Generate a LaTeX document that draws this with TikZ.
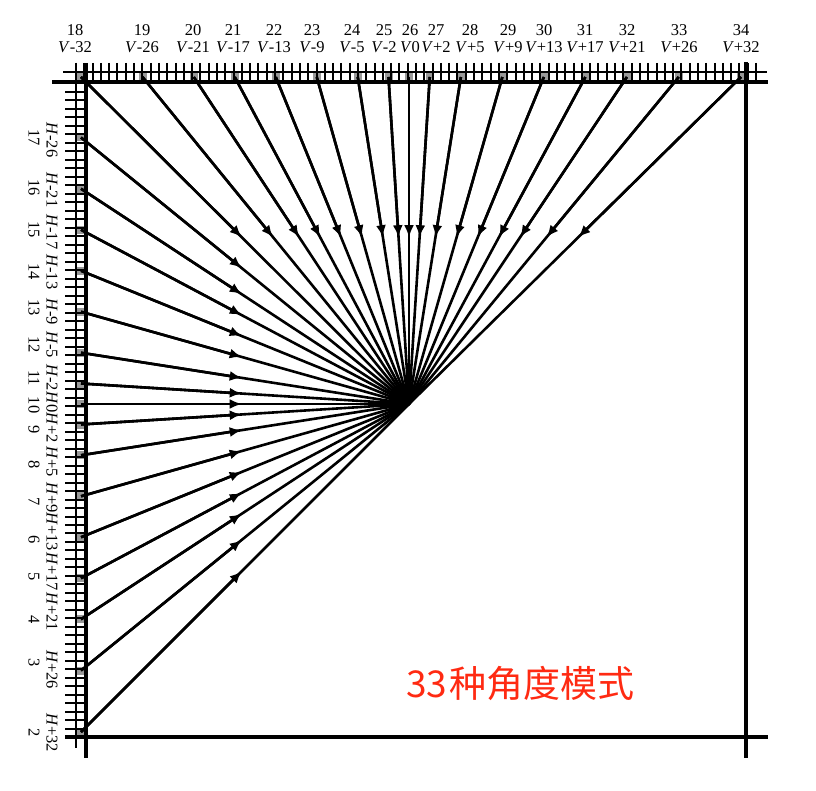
\documentclass[tikz,border=0pt]{standalone}
\usepackage{fontspec}
\setmainfont{Liberation Serif}
\newfontfamily\cjkfont{Noto Sans CJK SC}
\usetikzlibrary{arrows.meta,calc}
\definecolor{redtxt}{RGB}{255,42,18}
\begin{document}
\begin{tikzpicture}[x=1pt,y=-1pt]
\tikzset{
  frameline/.style={line width=3.2pt},
  bandline/.style={line width=2.2pt},
  tickline/.style={line width=2pt},
  ray/.style={line width=2.6pt},
  rayarrow/.style={ray,-{Latex[length=12pt,width=10pt]}},
  cell/.style={fill=black!40},
  toplab/.style={font=\fontsize{16.5}{16.5}\selectfont, inner sep=0pt},
  leftlab/.style={toplab, rotate=-90},
}
\useasboundingbox (0,0) rectangle (816,791);
\coordinate (C) at (409,404);
% sample coordinates
\foreach \m/\o in {18/-32,19/-26,20/-21,21/-17,22/-13,23/-9,24/-5,25/-2,26/0,27/2,28/5,29/9,30/13,31/17,32/21,33/26,34/32}{
  \coordinate (t\m) at ({409+\o*10.25+max(\o,0)*0.125},77);
}
\foreach \m/\o in {17/-26,16/-21,15/-17,14/-13,13/-9,12/-5,11/-2,10/0,9/2,8/5,7/9,6/13,5/17,4/21,3/26,2/32}{
  \coordinate (l\m) at (81,{404+\o*10.25});
}
% gray sample cells
\foreach \m in {18,...,34}{\fill[cell] ($(t\m)+(-4,-4.5)$) rectangle +(8,9);}
\foreach \m in {2,...,17}{\fill[cell] ($(l\m)+(-4.5,-4)$) rectangle +(9,8);}
% ticks
\foreach \i in {0,...,82}{\draw[tickline] ({76+\i*8.293},63) -- ++(0,19);}
\foreach \i in {0,...,76}{\draw[tickline] (65,{92+\i*8.49}) -- ++(21,0);}
% band lines
\draw[bandline] (63,72) -- (767,72);
\draw[bandline] (76,63) -- (76,748);
% frame
\draw[frameline] (52,82) -- (768,82);
\draw[frameline] (86,63) -- (86,758);
\draw[frameline] (746,62) -- (746,758);
\draw[frameline] (65,737) -- (768,737);
% rays
\foreach \m in {18,...,34}{
  \draw[ray] (t\m) -- (C);
  \draw[rayarrow] (t\m) -- ($(t\m)!0.49!(C)$);
}
\foreach \m in {2,...,17}{
  \draw[ray] (l\m) -- (C);
  \draw[rayarrow] (l\m) -- ($(l\m)!0.49!(C)$);
}
% top labels
\foreach \m/\x/\s in {18/75/-32,19/142/-26,20/193/-21,21/233/-17,22/274/-13,23/312/-9,24/352/-5,25/384/-2,26/410/0,27/436/+2,28/470/+5,29/508/+9,30/544/+13,31/585/+17,32/627/+21,33/679/+26,34/741/+32}{
  \node[toplab] (tn\m) at (\x,30) {\m};
  \node[toplab] (tv\m) at (\x,47) {\textit{V}\s};
}
% left labels
\foreach \m/\a/\b/\s in {17/138/140/-26,16/188/190/-21,15/230/232/-17,14/272/272/-13,13/308/312/-9,12/345/345/-5,11/378/378/-2,10/405/402/0,9/430/428/+2,8/465/462/+5,7/502/498/+9,6/540/532/+13,5/577/572/+17,4/620/612/+21,3/663/670/+26,2/733/733/+32}{
  \node[leftlab] (ln\m) at (34,\a) {\m};
  \node[leftlab] (lh\m) at (52,\b) {\textit{H}\s};
}
% caption
\node[font=\cjkfont\fontsize{37}{37}\selectfont, text=redtxt, anchor=base west, inner sep=0pt] (cap) at (406,697) {33\hspace{2pt}种角度模式};
\end{tikzpicture}
\end{document}
